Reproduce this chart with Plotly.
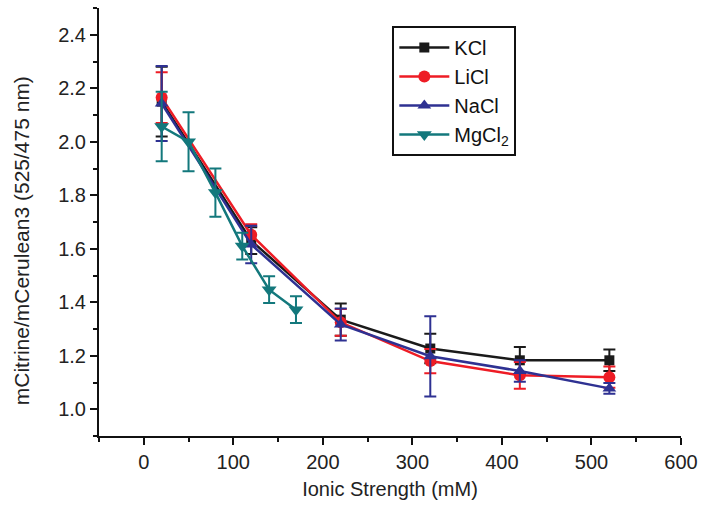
import plotly.graph_objects as go

x_main = [20, 120, 220, 320, 420, 520]
x_mg = [20, 50, 80, 110, 140, 170]

kcl = [2.15, 1.63, 1.335, 1.227, 1.183, 1.183]
kcl_err = [0.13, 0.05, 0.06, 0.055, 0.05, 0.04]
licl = [2.165, 1.652, 1.325, 1.18, 1.127, 1.12]
licl_err = [0.095, 0.04, 0.05, 0.045, 0.05, 0.04]
nacl = [2.143, 1.616, 1.317, 1.198, 1.143, 1.078]
nacl_err = [0.14, 0.07, 0.06, 0.15, 0.04, 0.02]
mgcl2 = [2.057, 2.0, 1.81, 1.61, 1.447, 1.372]
mgcl2_err = [0.13, 0.11, 0.09, 0.05, 0.05, 0.05]

series = [
    ("KCl", x_main, kcl, kcl_err, "#1a1a1a", "square", 10),
    ("LiCl", x_main, licl, licl_err, "#ee1c25", "circle", 12),
    ("NaCl", x_main, nacl, nacl_err, "#2e3192", "triangle-up", 12),
    ("MgCl<sub>2</sub>", x_mg, mgcl2, mgcl2_err, "#13787c", "triangle-down", 13),
]

fig = go.Figure()
for name, xs, ys, es, col, sym, sz in series:
    fig.add_trace(go.Scatter(
        x=xs, y=ys, name=name, mode="lines+markers",
        line=dict(color=col, width=2.5),
        marker=dict(symbol=sym, size=sz, color=col),
        error_y=dict(type="data", array=es, visible=True, color=col, thickness=2, width=6),
    ))

font_family = "Liberation Sans, Arial, sans-serif"
fig.update_layout(
    width=706, height=512,
    margin=dict(l=99, r=22, t=8, b=76),
    plot_bgcolor="white", paper_bgcolor="white",
    font=dict(family=font_family, color="#222222", size=20),
    showlegend=True,
    legend=dict(
        x=0.504, y=0.958, xanchor="left", yanchor="top",
        bordercolor="#111111", borderwidth=2, bgcolor="white",
        font=dict(size=20, color="#111111"),
        itemwidth=50, tracegroupgap=0,
    ),
    xaxis=dict(
        range=[-50, 600], dtick=100, tick0=0,
        showline=True, linecolor="#111111", linewidth=2,
        ticks="outside", ticklen=7, tickwidth=2, tickcolor="#111111",
        minor=dict(ticks="outside", dtick=50, ticklen=4, tickwidth=2, tickcolor="#111111"),
        showgrid=False, zeroline=False,
        title=dict(text="Ionic Strength (mM)", font=dict(size=20), standoff=10),
        tickfont=dict(size=20),
    ),
    yaxis=dict(
        range=[0.9, 2.5], dtick=0.2, tick0=0, tickformat=".1f",
        showline=True, linecolor="#111111", linewidth=2,
        ticks="outside", ticklen=7, tickwidth=2, tickcolor="#111111",
        minor=dict(ticks="outside", dtick=0.1, ticklen=4, tickwidth=2, tickcolor="#111111"),
        showgrid=False, zeroline=False,
        tickfont=dict(size=20),
    ),
    annotations=[dict(
        text="mCitrine/mCerulean3 (525/475 nm)", textangle=-90,
        xref="paper", yref="paper", x=-0.134, y=0.455,
        xanchor="center", yanchor="middle", showarrow=False,
        font=dict(size=21, color="#222222"),
    )],
)

fig.write_html("out.html")
